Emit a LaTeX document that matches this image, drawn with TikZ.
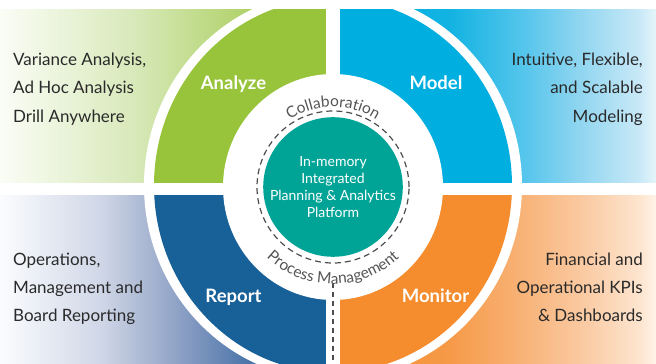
\documentclass[tikz,border=0pt]{standalone}
\usepackage{fontspec}
\setmainfont{Lato}
\usetikzlibrary{decorations.text}
\definecolor{cAnalyze}{HTML}{98C43B}
\definecolor{cModel}{HTML}{00AFE0}
\definecolor{cReport}{HTML}{186098}
\definecolor{cMonitor}{HTML}{F58C2D}
\definecolor{cTeal}{HTML}{00A497}
\definecolor{cText}{HTML}{2A2A2A}
\definecolor{cArcText}{HTML}{555555}
\definecolor{cDash}{HTML}{4D4D4D}
% band gradient stops
\definecolor{tlA}{HTML}{FBFDF6}\definecolor{tlB}{HTML}{D8E9BA}\definecolor{tlC}{HTML}{AACE5C}\definecolor{tlD}{HTML}{9AC63C}
\definecolor{trA}{HTML}{00AFE0}\definecolor{trB}{HTML}{12B3E2}\definecolor{trC}{HTML}{58C6EC}\definecolor{trD}{HTML}{8FD5F0}\definecolor{trE}{HTML}{C9E9F7}\definecolor{trF}{HTML}{E6F5FB}
\definecolor{blA}{HTML}{FBFCFE}\definecolor{blB}{HTML}{D0D7E7}\definecolor{blC}{HTML}{A7B5D1}\definecolor{blD}{HTML}{7A93BD}\definecolor{blE}{HTML}{4A75A8}\definecolor{blF}{HTML}{186098}
\definecolor{brA}{HTML}{F58C2D}\definecolor{brB}{HTML}{F69A48}\definecolor{brC}{HTML}{F8B47A}\definecolor{brD}{HTML}{FAC89F}\definecolor{brE}{HTML}{FDE5CF}\definecolor{brF}{HTML}{FFF3E8}
\pgfdeclarehorizontalshading{tlshade}{100bp}{color(0bp)=(tlA); color(25bp)=(tlA); color(45bp)=(tlB); color(65bp)=(tlC); color(75bp)=(tlD); color(100bp)=(tlD)}
\pgfdeclarehorizontalshading{trshade}{100bp}{color(0bp)=(trA); color(25bp)=(trA); color(43bp)=(trB); color(55bp)=(trC); color(63bp)=(trD); color(72.5bp)=(trE); color(75bp)=(trF); color(100bp)=(trF)}
\pgfdeclarehorizontalshading{blshade}{100bp}{color(0bp)=(blA); color(25bp)=(blA); color(40bp)=(blB); color(47.5bp)=(blC); color(55bp)=(blD); color(62.5bp)=(blE); color(75bp)=(blF); color(100bp)=(blF)}
\pgfdeclarehorizontalshading{brshade}{100bp}{color(0bp)=(brA); color(25bp)=(brA); color(43bp)=(brB); color(55bp)=(brC); color(63bp)=(brD); color(72.5bp)=(brE); color(75bp)=(brF); color(100bp)=(brF)}
\newcommand\sidefont{\fontsize{17}{20}\selectfont}
\newcommand\quadfont{\fontsize{18.5}{20}\selectfont\bfseries}
\newcommand\corefont{\fontsize{14}{16.7}\selectfont}
\newcommand\arcfont{\fontsize{15.5}{15.5}\selectfont}
\begin{document}
\begin{tikzpicture}[x=1pt,y=1pt,
  sidetext/.style={font=\sidefont, text=cText, inner sep=0pt},
  quadlabel/.style={font=\quadfont, text=white, inner sep=0pt, anchor=base},
  dashline/.style={draw=cDash, line width=1.2pt, dash pattern=on 6pt off 4pt},
  coredisk/.style={circle, fill=cTeal, minimum size=136pt, inner sep=0pt, text=white, font=\corefont, align=center}]
\useasboundingbox (0,0) rectangle (656,364);
\begin{scope}
  \clip (0,0) rectangle (656,354);
  \shade[shading=tlshade] (0,181) rectangle (333,354);
  \shade[shading=trshade] (333,181) rectangle (656,354);
  \shade[shading=blshade] (0,0) rectangle (333,169);
  \shade[shading=brshade] (333,0) rectangle (656,169);
  \fill[white] (333,178.5) ellipse [x radius=189, y radius=195];
  \begin{scope}\clip (0,178.5) rectangle (333,364);
    \fill[cAnalyze] (333,178.5) ellipse [x radius=179, y radius=187];\end{scope}
  \begin{scope}\clip (333,178.5) rectangle (656,364);
    \fill[cModel] (333,178.5) ellipse [x radius=179, y radius=187];\end{scope}
  \begin{scope}\clip (0,0) rectangle (333,178.5);
    \fill[cReport] (333,178.5) ellipse [x radius=179, y radius=187];\end{scope}
  \begin{scope}\clip (333,0) rectangle (656,178.5);
    \fill[cMonitor] (333,178.5) ellipse [x radius=179, y radius=187];\end{scope}
  \fill[white] (333,177) ellipse [x radius=110, y radius=113];
  \fill[white] (326,0) rectangle (340,364);
  \fill[white] (0,169) rectangle (656,181);
\end{scope}
% dashed ring and core
\draw[dashline] (333,177) circle (76);
\node[coredisk] (core) at (333,177) {In-memory\\Integrated\\Planning \& Analytics\\Platform};
\coordinate (vtop) at (333,81);
\coordinate (vbot) at (333,0);
\draw[dashline, dash pattern=on 5pt off 4pt] (vtop) -- (vbot);
% curved labels
\path[decorate, decoration={text along path, text align=center,
  text={|\arcfont\color{cArcText}|Collaboration}}]
  ([shift={(150:80)}]333,177) arc[start angle=150, end angle=30, radius=80];
\path[decorate, decoration={text along path, text align=center,
  text={|\arcfont\color{cArcText}|Process Management}}]
  ([shift={(210:97)}]333,177) arc[start angle=210, end angle=330, radius=97];
% quadrant labels
\node[quadlabel] (analyze) at (233.5,274.7) {Analyze};
\node[quadlabel] (model) at (436,274.7) {Model};
\node[quadlabel] (report) at (233.5,61.3) {Report};
\node[quadlabel] (monitor) at (435.5,61.3) {Monitor};
% side texts
\node[sidetext, anchor=base west] (tl1) at (13,298.3) {Variance Analysis,};
\node[sidetext, anchor=base west] (tl2) at (13,270) {Ad Hoc Analysis};
\node[sidetext, anchor=base west] (tl3) at (13,241.3) {Drill Anywhere};
\node[sidetext, anchor=base east] (tr1) at (643,298.3) {Intuitive, Flexible,};
\node[sidetext, anchor=base east] (tr2) at (643,270) {and Scalable};
\node[sidetext, anchor=base east] (tr3) at (643,241.3) {Modeling};
\node[sidetext, anchor=base west] (bl1) at (13,98.5) {Operations,};
\node[sidetext, anchor=base west] (bl2) at (13,70) {Management and};
\node[sidetext, anchor=base west] (bl3) at (13,42) {Board Reporting};
\node[sidetext, anchor=base east] (br1) at (643,98.5) {Financial and};
\node[sidetext, anchor=base east] (br2) at (643,70) {Operational KPIs};
\node[sidetext, anchor=base east] (br3) at (643,42) {\& Dashboards};
\end{tikzpicture}
\end{document}
